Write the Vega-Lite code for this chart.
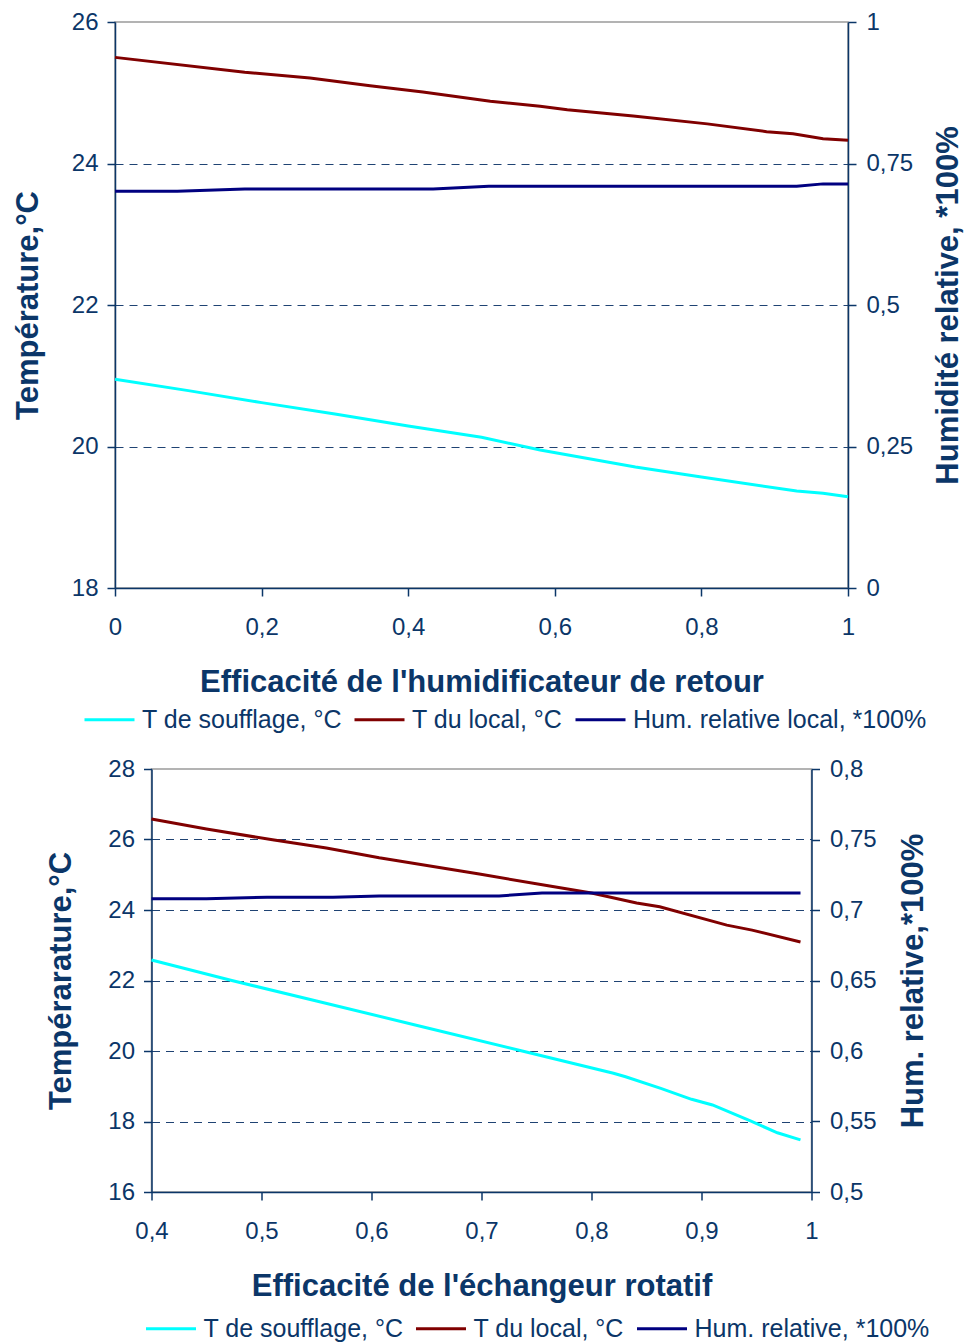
{
  "$schema": "https://vega.github.io/schema/vega-lite/v6.json",
  "background": "white",
  "padding": {"left": 11, "top": 9, "right": 0, "bottom": 0},
  "spacing": 181,
  "bounds": "flush",
  "center": true,
  "resolve": {"scale": {"color": "independent"}},
  "config": {
    "font": "Liberation Sans",
    "view": {"stroke": "#9a9a9a", "strokeWidth": 1.5},
    "axis": {
      "labelFont": "Liberation Sans",
      "labelFontSize": 24,
      "labelColor": "#0b3668",
      "labelFlush": false,
      "titleFont": "Liberation Sans",
      "titleFontSize": 31,
      "titleFontWeight": "bold",
      "titleColor": "#0b3668",
      "domainColor": "#0b3668",
      "domainWidth": 1.5,
      "tickColor": "#0b3668",
      "tickWidth": 1.5,
      "tickSize": 8,
      "gridColor": "#1f4373",
      "gridDash": [8, 6],
      "gridWidth": 1
    },
    "legend": {
      "orient": "none",
      "direction": "horizontal",
      "title": null,
      "symbolType": "stroke",
      "symbolStrokeWidth": 3,
      "symbolSize": 2500,
      "labelFont": "Liberation Sans",
      "labelFontSize": 25,
      "labelColor": "#0b3668",
      "labelOffset": 6,
      "columnPadding": 6,
      "labelLimit": 400
    },
    "line": {"strokeWidth": 3}
  },
  "vconcat": [
    {
      "width": 733,
      "height": 566,
      "data": {
        "values": [
          {"s": "T de soufflage, °C", "x": 0, "v": 20.95},
          {"s": "T de soufflage, °C", "x": 0.1, "v": 20.79},
          {"s": "T de soufflage, °C", "x": 0.2, "v": 20.62},
          {"s": "T de soufflage, °C", "x": 0.3, "v": 20.46},
          {"s": "T de soufflage, °C", "x": 0.4, "v": 20.29},
          {"s": "T de soufflage, °C", "x": 0.5, "v": 20.13},
          {"s": "T de soufflage, °C", "x": 0.58, "v": 19.95},
          {"s": "T de soufflage, °C", "x": 0.71, "v": 19.71},
          {"s": "T de soufflage, °C", "x": 0.8, "v": 19.57},
          {"s": "T de soufflage, °C", "x": 0.93, "v": 19.37},
          {"s": "T de soufflage, °C", "x": 0.966, "v": 19.34},
          {"s": "T de soufflage, °C", "x": 1, "v": 19.29},
          {"s": "T du local, °C", "x": 0, "v": 25.5},
          {"s": "T du local, °C", "x": 0.177, "v": 25.29},
          {"s": "T du local, °C", "x": 0.266, "v": 25.21},
          {"s": "T du local, °C", "x": 0.348, "v": 25.1},
          {"s": "T du local, °C", "x": 0.42, "v": 25.01},
          {"s": "T du local, °C", "x": 0.512, "v": 24.88},
          {"s": "T du local, °C", "x": 0.58, "v": 24.81},
          {"s": "T du local, °C", "x": 0.617, "v": 24.76},
          {"s": "T du local, °C", "x": 0.707, "v": 24.67},
          {"s": "T du local, °C", "x": 0.808, "v": 24.56},
          {"s": "T du local, °C", "x": 0.889, "v": 24.45},
          {"s": "T du local, °C", "x": 0.925, "v": 24.42},
          {"s": "T du local, °C", "x": 0.966, "v": 24.35},
          {"s": "T du local, °C", "x": 1, "v": 24.33},
          {"s": "Hum. relative local, *100%", "x": 0, "v": 0.701},
          {"s": "Hum. relative local, *100%", "x": 0.085, "v": 0.701},
          {"s": "Hum. relative local, *100%", "x": 0.177, "v": 0.705},
          {"s": "Hum. relative local, *100%", "x": 0.348, "v": 0.705},
          {"s": "Hum. relative local, *100%", "x": 0.434, "v": 0.705},
          {"s": "Hum. relative local, *100%", "x": 0.51, "v": 0.71},
          {"s": "Hum. relative local, *100%", "x": 0.93, "v": 0.71},
          {"s": "Hum. relative local, *100%", "x": 0.966, "v": 0.714},
          {"s": "Hum. relative local, *100%", "x": 1, "v": 0.714}
        ]
      },
      "layer": [
        {
          "transform": [{"filter": "datum.s != 'Hum. relative local, *100%'"}],
          "mark": {"type": "line", "strokeWidth": 3},
          "encoding": {
            "x": {
              "field": "x", "type": "quantitative",
              "scale": {"domain": [0, 1], "nice": false},
              "axis": {"values": [0, 0.2, 0.4, 0.6, 0.8, 1], "format": ".1~f", "labelExpr": "replace(datum.label, '.', ',')", "grid": false, "labelPadding": 19, "titlePadding": 28, "title": "Efficacité de l'humidificateur de retour"}
            },
            "y": {
              "field": "v", "type": "quantitative",
              "scale": {"domain": [18, 26], "nice": false, "zero": false},
              "axis": {"values": [18, 20, 22, 24, 26], "format": "d", "grid": true, "gridOpacity": {"condition": {"test": "datum.value == 18 || datum.value == 26", "value": 0}, "value": 1}, "labelPadding": 9, "titlePadding": 27, "title": "Température,°C"}
            },
            "color": {
              "field": "s", "type": "nominal",
              "scale": {"domain": ["T de soufflage, °C", "T du local, °C", "Hum. relative local, *100%"], "range": ["#00ffff", "#800000", "#000080"]},
              "legend": {"legendX": -32, "legendY": 671}
            }
          }
        },
        {
          "transform": [{"filter": "datum.s == 'Hum. relative local, *100%'"}],
          "mark": {"type": "line", "strokeWidth": 3},
          "encoding": {
            "x": {
              "field": "x", "type": "quantitative",
              "scale": {"domain": [0, 1], "nice": false},
              "axis": {"values": [0, 0.2, 0.4, 0.6, 0.8, 1], "format": ".1~f", "labelExpr": "replace(datum.label, '.', ',')", "grid": false, "labelPadding": 19, "titlePadding": 28, "title": "Efficacité de l'humidificateur de retour"}
            },
            "y": {
              "field": "v", "type": "quantitative",
              "scale": {"domain": [0, 1], "nice": false},
              "axis": {"orient": "right", "values": [0, 0.25, 0.5, 0.75, 1], "format": ".2~f", "labelExpr": "replace(datum.label, '.', ',')", "grid": false, "labelPadding": 10, "titlePadding": 21, "titleAngle": 270, "titleBaseline": "top", "title": "Humidité relative, *100%"}
            },
            "color": {
              "field": "s", "type": "nominal",
              "scale": {"domain": ["T de soufflage, °C", "T du local, °C", "Hum. relative local, *100%"], "range": ["#00ffff", "#800000", "#000080"]},
              "legend": {"legendX": -32, "legendY": 671}
            }
          }
        }
      ],
      "resolve": {"scale": {"y": "independent"}}
    },
    {
      "width": 660,
      "height": 423,
      "data": {
        "values": [
          {"s": "T de soufflage, °C", "x": 0.4, "v": 22.58},
          {"s": "T de soufflage, °C", "x": 0.473, "v": 22.0},
          {"s": "T de soufflage, °C", "x": 0.55, "v": 21.42},
          {"s": "T de soufflage, °C", "x": 0.65, "v": 20.66},
          {"s": "T de soufflage, °C", "x": 0.737, "v": 20.0},
          {"s": "T de soufflage, °C", "x": 0.82, "v": 19.37},
          {"s": "T de soufflage, °C", "x": 0.831, "v": 19.27},
          {"s": "T de soufflage, °C", "x": 0.863, "v": 18.94},
          {"s": "T de soufflage, °C", "x": 0.891, "v": 18.63},
          {"s": "T de soufflage, °C", "x": 0.91, "v": 18.47},
          {"s": "T de soufflage, °C", "x": 0.945, "v": 18.01},
          {"s": "T de soufflage, °C", "x": 0.969, "v": 17.68},
          {"s": "T de soufflage, °C", "x": 0.99, "v": 17.48},
          {"s": "T du local, °C", "x": 0.4, "v": 26.58},
          {"s": "T du local, °C", "x": 0.45, "v": 26.3},
          {"s": "T du local, °C", "x": 0.51, "v": 25.99},
          {"s": "T du local, °C", "x": 0.559, "v": 25.76},
          {"s": "T du local, °C", "x": 0.607, "v": 25.48},
          {"s": "T du local, °C", "x": 0.698, "v": 25.02},
          {"s": "T du local, °C", "x": 0.762, "v": 24.68},
          {"s": "T du local, °C", "x": 0.8, "v": 24.48},
          {"s": "T du local, °C", "x": 0.841, "v": 24.2},
          {"s": "T du local, °C", "x": 0.862, "v": 24.09},
          {"s": "T du local, °C", "x": 0.923, "v": 23.57},
          {"s": "T du local, °C", "x": 0.946, "v": 23.43},
          {"s": "T du local, °C", "x": 0.99, "v": 23.09},
          {"s": "Hum. relative, *100%", "x": 0.4, "v": 0.708},
          {"s": "Hum. relative, *100%", "x": 0.45, "v": 0.708},
          {"s": "Hum. relative, *100%", "x": 0.505, "v": 0.709},
          {"s": "Hum. relative, *100%", "x": 0.565, "v": 0.709},
          {"s": "Hum. relative, *100%", "x": 0.607, "v": 0.71},
          {"s": "Hum. relative, *100%", "x": 0.716, "v": 0.71},
          {"s": "Hum. relative, *100%", "x": 0.755, "v": 0.712},
          {"s": "Hum. relative, *100%", "x": 0.99, "v": 0.712}
        ]
      },
      "layer": [
        {
          "transform": [{"filter": "datum.s != 'Hum. relative, *100%'"}],
          "mark": {"type": "line", "strokeWidth": 3},
          "encoding": {
            "x": {
              "field": "x", "type": "quantitative",
              "scale": {"domain": [0.4, 1], "nice": false, "zero": false},
              "axis": {"values": [0.4, 0.5, 0.6, 0.7, 0.8, 0.9, 1], "format": ".1~f", "labelExpr": "replace(datum.label, '.', ',')", "grid": false, "labelPadding": 19, "titlePadding": 28, "title": "Efficacité de l'échangeur rotatif"}
            },
            "y": {
              "field": "v", "type": "quantitative",
              "scale": {"domain": [16, 28], "nice": false, "zero": false},
              "axis": {"values": [16, 18, 20, 22, 24, 26, 28], "format": "d", "grid": true, "gridOpacity": {"condition": {"test": "datum.value == 16 || datum.value == 28", "value": 0}, "value": 1}, "labelPadding": 9, "titlePadding": 30, "title": "Tempérarature,°C"}
            },
            "color": {
              "field": "s", "type": "nominal",
              "scale": {"domain": ["T de soufflage, °C", "T du local, °C", "Hum. relative, *100%"], "range": ["#00ffff", "#800000", "#000080"]},
              "legend": {"legendX": -7, "legendY": 533}
            }
          }
        },
        {
          "transform": [{"filter": "datum.s == 'Hum. relative, *100%'"}],
          "mark": {"type": "line", "strokeWidth": 3},
          "encoding": {
            "x": {
              "field": "x", "type": "quantitative",
              "scale": {"domain": [0.4, 1], "nice": false, "zero": false},
              "axis": {"values": [0.4, 0.5, 0.6, 0.7, 0.8, 0.9, 1], "format": ".1~f", "labelExpr": "replace(datum.label, '.', ',')", "grid": false, "labelPadding": 19, "titlePadding": 28, "title": "Efficacité de l'échangeur rotatif"}
            },
            "y": {
              "field": "v", "type": "quantitative",
              "scale": {"domain": [0.5, 0.8], "nice": false, "zero": false},
              "axis": {"orient": "right", "values": [0.5, 0.55, 0.6, 0.65, 0.7, 0.75, 0.8], "format": ".2~f", "labelExpr": "replace(datum.label, '.', ',')", "grid": false, "labelPadding": 10, "titlePadding": 22, "titleAngle": 270, "titleBaseline": "top", "title": "Hum. relative,*100%"}
            },
            "color": {
              "field": "s", "type": "nominal",
              "scale": {"domain": ["T de soufflage, °C", "T du local, °C", "Hum. relative, *100%"], "range": ["#00ffff", "#800000", "#000080"]},
              "legend": {"legendX": -7, "legendY": 533}
            }
          }
        }
      ],
      "resolve": {"scale": {"y": "independent"}}
    }
  ]
}
